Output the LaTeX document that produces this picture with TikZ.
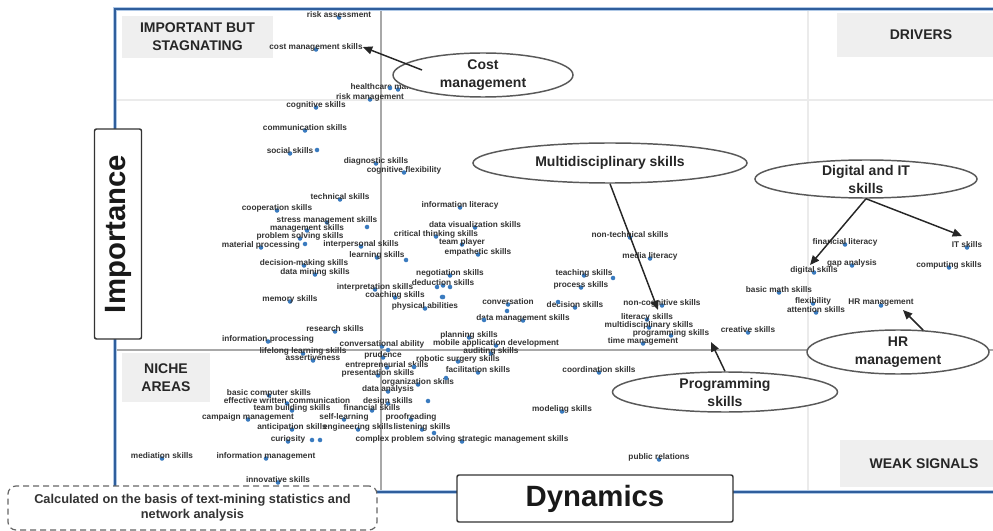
\documentclass[tikz,border=0pt]{standalone}
\usepackage{fontspec}
\setmainfont{Liberation Sans}
\usetikzlibrary{shapes.geometric,arrows.meta}

\definecolor{framedark}{HTML}{2F5E9C}
\definecolor{framelight}{HTML}{AFC8E6}
\definecolor{dotblue}{HTML}{3A7BBF}
\definecolor{gridgray}{HTML}{A8A8A8}
\definecolor{faintgray}{HTML}{EBEBEB}
\definecolor{quadfill}{HTML}{EFEFEF}

\tikzset{
  skill/.style={font=\fontsize{6.2}{7}\selectfont\bfseries, text=black!80, inner sep=0pt},
  skilldot/.style={fill=dotblue},
  quadbox/.style={fill=quadfill, font=\fontsize{10.5}{13.5}\selectfont\bfseries,
    align=center, text=black!85, inner sep=0pt},
  bubble/.style={ellipse, draw=black!65, line width=1.1pt, fill=white, inner sep=0pt},
  bubbletext/.style={font=\fontsize{10.5}{13.5}\selectfont\bfseries, align=center, text=black!85},
  axisbox/.style={draw=black!80, line width=1.1pt, fill=white, rounded corners=1.5pt,
    font=\fontsize{22}{26}\selectfont\bfseries, text=black!90, inner sep=0pt},
  notebox/.style={draw=black!60, dashed, dash pattern=on 4.5pt off 3pt, line width=0.9pt,
    fill=white, rounded corners=6pt, align=center, inner sep=0pt,
    font=\fontsize{9.6}{11.4}\selectfont\bfseries, text=black!80},
  pointer/.style={-{Triangle[length=7pt,width=6pt]}, line width=1.1pt, black!85},
}

\begin{document}
\begin{tikzpicture}[x=0.75pt,y=-0.75pt]
\useasboundingbox (0,0) rectangle (993,531);
\clip (0,0) rectangle (993,531);

% faint and main quadrant grid lines
\draw[faintgray, line width=0.8pt] (808,9) -- (808,492);
\draw[faintgray, line width=0.8pt] (115,100) -- (1000,100);
\draw[gridgray, line width=0.8pt] (381,9) -- (381,492);
\draw[gridgray, line width=0.8pt] (115,350) -- (1000,350);

% plot frame
\draw[framelight, line width=3.6pt] (1000,9) -- (115,9) -- (115,492) -- (1000,492);
\draw[framedark, line width=1.8pt] (1000,9) -- (115,9) -- (115,492) -- (1000,492);

% quadrant titles
\node[quadbox, minimum width=113.25pt, minimum height=31.5pt] (q1) at (197.5,37) {IMPORTANT BUT\\STAGNATING};
\node[quadbox, minimum width=126pt, minimum height=33pt] (q2) at (921,35) {DRIVERS};
\node[quadbox, minimum width=66pt, minimum height=36.75pt] (q3) at (166,377.5) {NICHE\\AREAS};
\node[quadbox, minimum width=126pt, minimum height=35.25pt] (q4) at (924,463.5) {WEAK SIGNALS};

% skills: label centre x / y / text, dot just below the label
\foreach \px/\py/\t [count=\i] in {
  339/15/risk assessment,
  316/47/cost management skills,
  398/87/healthcare management,
  370/97/risk management,
  316/105/cognitive skills,
  305/128/communication skills,
  290/151/social skills,
  376/161/diagnostic skills,
  404/170/cognitive flexibility,
  340/197/technical skills,
  277/208/cooperation skills,
  327/220/stress management skills,
  307/228/management skills,
  300/236/problem solving skills,
  261/245/material processing,
  361/244/interpersonal skills,
  377/255/learning skills,
  304/263/decision-making skills,
  315/272/data mining skills,
  375/287/interpretation skills,
  395/295/coaching skills,
  290/299/memory skills,
  425/306/physical abilities,
  335/329/research skills,
  268/339/information processing,
  460/205/information literacy,
  475/225/data visualization skills,
  436/234/critical thinking skills,
  462/242/team player,
  478/252/empathetic skills,
  450/273/negotiation skills,
  443/283/deduction skills,
  508/302/conversation,
  523/318/data management skills,
  630/235/non-technical skills,
  650/256/media literacy,
  584/273/teaching skills,
  581/285/process skills,
  575/305/decision skills,
  662/303/non-cognitive skills,
  647/317/literacy skills,
  649/325/multidisciplinary skills,
  671/333/programming skills,
  643/341/time management,
  748/330/creative skills,
  469/335/planning skills,
  496/343/mobile application development,
  382/344/conversational ability,
  303/351/lifelong learning skills,
  313/358/assertiveness,
  491/351/auditing skills,
  383/355/prudence,
  458/359/robotic surgery skills,
  387/365/entrepreneurial skills,
  478/370/facilitation skills,
  378/373/presentation skills,
  599/370/coordination skills,
  418/382/organization skills,
  388/389/data analysis,
  269/393/basic computer skills,
  287/401/effective written communication,
  388/401/design skills,
  292/408/team building skills,
  372/408/financial skills,
  248/417/campaign management,
  344/417/self-learning,
  411/417/proofreading,
  292/427/anticipation skills,
  358/427/engineering skills,
  422/427/listening skills,
  288/439/curiosity,
  462/439/complex problem solving strategic management skills,
  562/409/modeling skills,
  659/457/public relations,
  162/456/mediation skills,
  266/456/information management,
  278/480/innovative skills,
  845/242/financial literacy,
  967/245/IT skills,
  852/263/gap analysis,
  949/265/computing skills,
  814/270/digital skills,
  779/290/basic math skills,
  813/301/flexibility,
  816/310/attention skills,
  881/303/HR management}
{
  \fill[skilldot] (\px,\py+2.5) circle (1.7pt);
  \node[skill] (k\i) at (\px,\py) {\t};
}

% additional plotted points without labels
\foreach \px/\py in {367/227, 406/260, 442/297, 443/297, 437/287, 450/287,
  312/440, 320/440, 428/401, 613/278, 558/302, 507/311, 390/88, 317/150,
  414/367, 446/378, 484/320, 434/433, 305/244, 388/350}
  \fill[skilldot] (\px,\py) circle (1.7pt);

% highlighted skill groups
\node[bubble, minimum width=135pt, minimum height=33pt,
  label={[bubbletext]center:Cost\\management}] (cost) at (483,75) {};
\node[bubble, minimum width=205.5pt, minimum height=30pt,
  label={[bubbletext]center:Multidisciplinary skills}] (multi) at (610,163) {};
\node[bubble, minimum width=166.5pt, minimum height=28.5pt,
  label={[bubbletext]center:Digital and IT\\skills}] (digital) at (866,179) {};
\node[bubble, minimum width=136.5pt, minimum height=33pt,
  label={[bubbletext]center:HR\\management}] (hr) at (898,352) {};
\node[bubble, minimum width=168.75pt, minimum height=30pt,
  label={[bubbletext]center:Programming\\skills}] (prog) at (725,392) {};

% pointers from the groups to their skills
\coordinate (costtail) at (422,70);
\coordinate (multitip) at (658,310);
\coordinate (digitaltipa) at (810,265);
\coordinate (digitaltipb) at (962,236);
\coordinate (hrtip) at (903,310);
\coordinate (progtip) at (711,342);
\draw[pointer] (costtail) -- (k2.east);
\draw[pointer] (multi.south) -- (multitip);
\draw[pointer] (digital.south) -- (digitaltipa);
\draw[pointer] (digital.south) -- (digitaltipb);
\draw[pointer] (hr.41) -- (hrtip);
\draw[pointer] (prog.north) -- (progtip);

% axis titles
\node[axisbox, rotate=90, minimum width=157.5pt, minimum height=35.25pt] (importance) at (118,234) {Importance};
\node[axisbox, minimum width=207pt, minimum height=35.25pt] (dynamics) at (595,498.5) {Dynamics};

% method note
\node[notebox, minimum width=276.75pt, minimum height=33pt] (note) at (192.5,508)
  {Calculated on the basis of text-mining statistics and\\network analysis};
\end{tikzpicture}
\end{document}
